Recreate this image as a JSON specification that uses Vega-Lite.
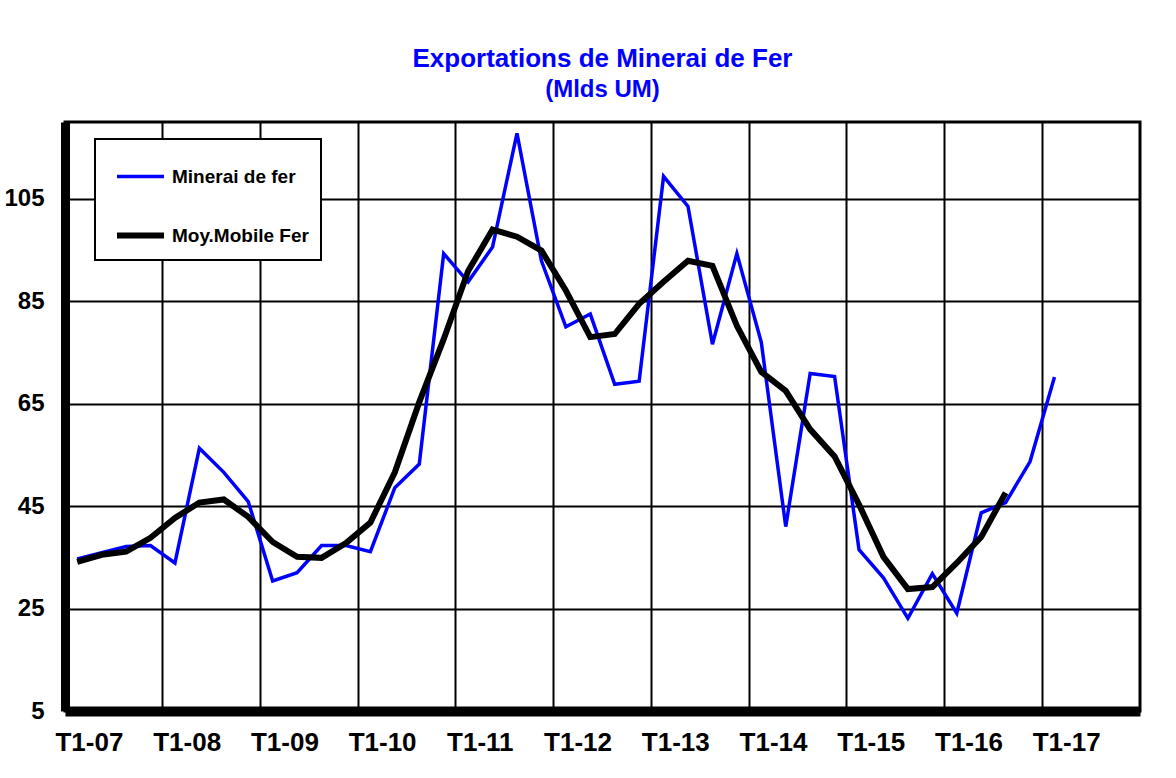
{
  "$schema": "https://vega.github.io/schema/vega-lite/v6.json",
  "width": 1075,
  "height": 589,
  "autosize": {"type": "none"},
  "padding": {"left": 65, "top": 122, "right": 36, "bottom": 67},
  "background": "white",
  "title": {
    "text": "Exportations de Minerai de Fer",
    "subtitle": "(Mlds UM)",
    "anchor": "middle",
    "font": "Liberation Sans",
    "fontSize": 26,
    "fontWeight": "bold",
    "color": "#0000ff",
    "subtitleFont": "Liberation Sans",
    "subtitleFontSize": 24,
    "subtitleFontWeight": "bold",
    "subtitleColor": "#0000ff",
    "subtitlePadding": 6,
    "offset": 20
  },
  "data": {
    "values": [
      {"t": "T1-07", "serie": "Minerai de fer", "valeur": 34.7},
      {"t": "T2-07", "serie": "Minerai de fer", "valeur": 35.9},
      {"t": "T3-07", "serie": "Minerai de fer", "valeur": 37.1},
      {"t": "T4-07", "serie": "Minerai de fer", "valeur": 37.3},
      {"t": "T1-08", "serie": "Minerai de fer", "valeur": 33.9},
      {"t": "T2-08", "serie": "Minerai de fer", "valeur": 56.3},
      {"t": "T3-08", "serie": "Minerai de fer", "valeur": 51.6},
      {"t": "T4-08", "serie": "Minerai de fer", "valeur": 45.9},
      {"t": "T1-09", "serie": "Minerai de fer", "valeur": 30.4},
      {"t": "T2-09", "serie": "Minerai de fer", "valeur": 32.0},
      {"t": "T3-09", "serie": "Minerai de fer", "valeur": 37.3},
      {"t": "T4-09", "serie": "Minerai de fer", "valeur": 37.3},
      {"t": "T1-10", "serie": "Minerai de fer", "valeur": 36.1},
      {"t": "T2-10", "serie": "Minerai de fer", "valeur": 48.6},
      {"t": "T3-10", "serie": "Minerai de fer", "valeur": 53.2},
      {"t": "T4-10", "serie": "Minerai de fer", "valeur": 94.3},
      {"t": "T1-11", "serie": "Minerai de fer", "valeur": 88.8},
      {"t": "T2-11", "serie": "Minerai de fer", "valeur": 95.6},
      {"t": "T3-11", "serie": "Minerai de fer", "valeur": 117.8},
      {"t": "T4-11", "serie": "Minerai de fer", "valeur": 92.9},
      {"t": "T1-12", "serie": "Minerai de fer", "valeur": 80.0},
      {"t": "T2-12", "serie": "Minerai de fer", "valeur": 82.5},
      {"t": "T3-12", "serie": "Minerai de fer", "valeur": 68.8},
      {"t": "T4-12", "serie": "Minerai de fer", "valeur": 69.4},
      {"t": "T1-13", "serie": "Minerai de fer", "valeur": 109.4},
      {"t": "T2-13", "serie": "Minerai de fer", "valeur": 103.5},
      {"t": "T3-13", "serie": "Minerai de fer", "valeur": 76.6},
      {"t": "T4-13", "serie": "Minerai de fer", "valeur": 94.3},
      {"t": "T1-14", "serie": "Minerai de fer", "valeur": 77.0},
      {"t": "T2-14", "serie": "Minerai de fer", "valeur": 41.0},
      {"t": "T3-14", "serie": "Minerai de fer", "valeur": 70.9},
      {"t": "T4-14", "serie": "Minerai de fer", "valeur": 70.3},
      {"t": "T1-15", "serie": "Minerai de fer", "valeur": 36.5},
      {"t": "T2-15", "serie": "Minerai de fer", "valeur": 31.0},
      {"t": "T3-15", "serie": "Minerai de fer", "valeur": 23.1},
      {"t": "T4-15", "serie": "Minerai de fer", "valeur": 31.8},
      {"t": "T1-16", "serie": "Minerai de fer", "valeur": 24.1},
      {"t": "T2-16", "serie": "Minerai de fer", "valeur": 43.7},
      {"t": "T3-16", "serie": "Minerai de fer", "valeur": 45.7},
      {"t": "T4-16", "serie": "Minerai de fer", "valeur": 53.7},
      {"t": "T1-17", "serie": "Minerai de fer", "valeur": 70.2},
      {"t": "T1-07", "serie": "Moy.Mobile Fer", "valeur": 34.1},
      {"t": "T2-07", "serie": "Moy.Mobile Fer", "valeur": 35.5},
      {"t": "T3-07", "serie": "Moy.Mobile Fer", "valeur": 36.1},
      {"t": "T4-07", "serie": "Moy.Mobile Fer", "valeur": 38.8},
      {"t": "T1-08", "serie": "Moy.Mobile Fer", "valeur": 42.7},
      {"t": "T2-08", "serie": "Moy.Mobile Fer", "valeur": 45.7},
      {"t": "T3-08", "serie": "Moy.Mobile Fer", "valeur": 46.3},
      {"t": "T4-08", "serie": "Moy.Mobile Fer", "valeur": 42.9},
      {"t": "T1-09", "serie": "Moy.Mobile Fer", "valeur": 38.0},
      {"t": "T2-09", "serie": "Moy.Mobile Fer", "valeur": 35.1},
      {"t": "T3-09", "serie": "Moy.Mobile Fer", "valeur": 34.9},
      {"t": "T4-09", "serie": "Moy.Mobile Fer", "valeur": 37.8},
      {"t": "T1-10", "serie": "Moy.Mobile Fer", "valeur": 41.8},
      {"t": "T2-10", "serie": "Moy.Mobile Fer", "valeur": 51.6},
      {"t": "T3-10", "serie": "Moy.Mobile Fer", "valeur": 65.3},
      {"t": "T4-10", "serie": "Moy.Mobile Fer", "valeur": 77.6},
      {"t": "T1-11", "serie": "Moy.Mobile Fer", "valeur": 90.9},
      {"t": "T2-11", "serie": "Moy.Mobile Fer", "valeur": 99.0},
      {"t": "T3-11", "serie": "Moy.Mobile Fer", "valeur": 97.6},
      {"t": "T4-11", "serie": "Moy.Mobile Fer", "valeur": 94.9},
      {"t": "T1-12", "serie": "Moy.Mobile Fer", "valeur": 87.1},
      {"t": "T2-12", "serie": "Moy.Mobile Fer", "valeur": 78.0},
      {"t": "T3-12", "serie": "Moy.Mobile Fer", "valeur": 78.6},
      {"t": "T4-12", "serie": "Moy.Mobile Fer", "valeur": 84.5},
      {"t": "T1-13", "serie": "Moy.Mobile Fer", "valeur": 88.8},
      {"t": "T2-13", "serie": "Moy.Mobile Fer", "valeur": 92.9},
      {"t": "T3-13", "serie": "Moy.Mobile Fer", "valeur": 91.9},
      {"t": "T4-13", "serie": "Moy.Mobile Fer", "valeur": 80.2},
      {"t": "T1-14", "serie": "Moy.Mobile Fer", "valeur": 71.2},
      {"t": "T2-14", "serie": "Moy.Mobile Fer", "valeur": 67.5},
      {"t": "T3-14", "serie": "Moy.Mobile Fer", "valeur": 60.0},
      {"t": "T4-14", "serie": "Moy.Mobile Fer", "valeur": 54.7},
      {"t": "T1-15", "serie": "Moy.Mobile Fer", "valeur": 45.3},
      {"t": "T2-15", "serie": "Moy.Mobile Fer", "valeur": 35.1},
      {"t": "T3-15", "serie": "Moy.Mobile Fer", "valeur": 28.8},
      {"t": "T4-15", "serie": "Moy.Mobile Fer", "valeur": 29.2},
      {"t": "T1-16", "serie": "Moy.Mobile Fer", "valeur": 33.9},
      {"t": "T2-16", "serie": "Moy.Mobile Fer", "valeur": 39.0},
      {"t": "T3-16", "serie": "Moy.Mobile Fer", "valeur": 47.6}
    ]
  },
  "mark": {"type": "line", "strokeJoin": "miter", "clip": false},
  "encoding": {
    "x": {
      "field": "t",
      "type": "ordinal",
      "sort": null,
      "scale": {
        "type": "band",
        "paddingInner": 0,
        "paddingOuter": 0,
        "domain": ["T1-07","T2-07","T3-07","T4-07","T1-08","T2-08","T3-08","T4-08","T1-09","T2-09","T3-09","T4-09","T1-10","T2-10","T3-10","T4-10","T1-11","T2-11","T3-11","T4-11","T1-12","T2-12","T3-12","T4-12","T1-13","T2-13","T3-13","T4-13","T1-14","T2-14","T3-14","T4-14","T1-15","T2-15","T3-15","T4-15","T1-16","T2-16","T3-16","T4-16","T1-17","T2-17","T3-17","T4-17"]
      },
      "axis": {
        "title": null,
        "values": ["T1-07","T1-08","T1-09","T1-10","T1-11","T1-12","T1-13","T1-14","T1-15","T1-16","T1-17"],
        "bandPosition": 0,
        "labelOffset": 12.2,
        "labelAngle": 0,
        "labelAlign": "center",
        "labelFont": "Liberation Sans",
        "labelFontWeight": "bold",
        "labelFontSize": 26,
        "labelColor": "black",
        "labelPadding": 18,
        "ticks": false,
        "grid": true,
        "gridColor": "black",
        "gridWidth": 2,
        "gridOpacity": 1,
        "domainColor": "black",
        "domainWidth": 10
      }
    },
    "y": {
      "field": "valeur",
      "type": "quantitative",
      "scale": {"domain": [5, 120], "nice": false, "zero": false},
      "axis": {
        "title": null,
        "values": [5, 25, 45, 65, 85, 105],
        "labelFont": "Liberation Sans",
        "labelFontWeight": "bold",
        "labelFontSize": 24,
        "labelColor": "black",
        "labelPadding": 21,
        "ticks": false,
        "grid": true,
        "gridColor": "black",
        "gridWidth": 2,
        "gridOpacity": 1,
        "domainColor": "black",
        "domainWidth": 9
      }
    },
    "color": {
      "field": "serie",
      "type": "nominal",
      "scale": {"domain": ["Minerai de fer", "Moy.Mobile Fer"], "range": ["#0000ff", "#000000"]},
      "legend": {
        "title": null,
        "orient": "none",
        "legendX": 30,
        "legendY": 17,
        "symbolType": "stroke",
        "symbolSize": 2209,
        "symbolOffset": 7,
        "labelOffset": 5,
        "rowPadding": 22,
        "padding": 12,
        "labelLimit": 400,
        "strokeColor": "black",
        "fillColor": "white",
        "labelFont": "Liberation Sans",
        "labelFontWeight": "bold",
        "labelFontSize": 19,
        "labelColor": "black"
      }
    },
    "strokeWidth": {
      "field": "serie",
      "type": "nominal",
      "scale": {"domain": ["Minerai de fer", "Moy.Mobile Fer"], "range": [3.5, 6]},
      "legend": {
        "title": null,
        "orient": "none",
        "legendX": 30,
        "legendY": 17,
        "symbolType": "stroke",
        "symbolSize": 2209,
        "symbolOffset": 7,
        "labelOffset": 5,
        "rowPadding": 22,
        "padding": 12,
        "labelLimit": 400,
        "strokeColor": "black",
        "fillColor": "white",
        "labelFont": "Liberation Sans",
        "labelFontWeight": "bold",
        "labelFontSize": 19,
        "labelColor": "black"
      }
    }
  },
  "config": {
    "view": {"stroke": "black", "strokeWidth": 3},
    "legend": {"strokeWidth": 2}
  }
}
